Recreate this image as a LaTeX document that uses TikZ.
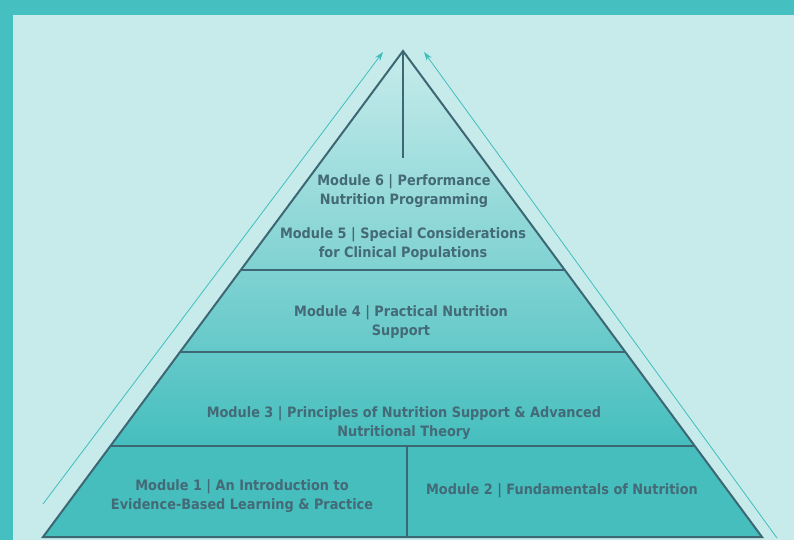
\documentclass[tikz,border=0pt]{standalone}
\usepackage{fontspec}
\setmainfont{DejaVu Sans}[FakeStretch=0.9]
\usetikzlibrary{arrows.meta,calc}
\definecolor{frameteal}{HTML}{45BFC0}
\definecolor{paper}{HTML}{C7EBEB}
\definecolor{slate}{HTML}{3D6772}
\definecolor{tierteal}{HTML}{46BEBE}
\definecolor{ink}{HTML}{436A76}
\definecolor{arrowteal}{HTML}{3FBDBD}
\tikzset{
  tiertext/.style={font=\bfseries\fontsize{14.3}{19.5}\selectfont, text=ink, align=center, inner sep=0},
  outline/.style={draw=slate, line width=2pt},
  climb/.style={draw=arrowteal, line width=0.8pt, -{Stealth[length=9pt,width=6pt]}}
}
\begin{document}
\begin{tikzpicture}[x=1pt,y=-1pt]
  \useasboundingbox (0,0) rectangle (794,540);
  \fill[frameteal] (0,0) rectangle (794,540);
  \fill[paper] (13,15) rectangle (794,540);
  \coordinate (apex) at (403,51);
  \coordinate (bl) at (43,537);
  \coordinate (br) at (762,537);
  \begin{scope}
    \clip (apex) -- (br) -- (bl) -- cycle;
    \shade[top color=paper, bottom color=tierteal] (0,51) rectangle (794,446);
    \fill[tierteal] (0,446) rectangle (794,540);
  \end{scope}
  \coordinate (l5) at ($(apex)!0.4506!(bl)$);
  \coordinate (r5) at ($(apex)!0.4506!(br)$);
  \coordinate (l4) at ($(apex)!0.6193!(bl)$);
  \coordinate (r4) at ($(apex)!0.6193!(br)$);
  \coordinate (l3) at ($(apex)!0.8128!(bl)$);
  \coordinate (r3) at ($(apex)!0.8128!(br)$);
  \coordinate (split) at (407,446);
  \coordinate (spire) at (403,158);
  \draw[outline] (l5) -- (r5);
  \draw[outline] (l4) -- (r4);
  \draw[outline] (l3) -- (r3);
  \draw[outline] (split) -- (split |- bl);
  \draw[outline] (apex) -- (spire);
  \draw[outline, line join=miter] (apex) -- (br) -- (bl) -- cycle;
  \coordinate (ltail) at (43,504);
  \coordinate (lhead) at (383,52);
  \coordinate (rtail) at (777,538);
  \coordinate (rhead) at (424,52);
  \draw[climb] (ltail) -- (lhead);
  \draw[climb] (rtail) -- (rhead);
  \node[tiertext] (m6) at (404,191) {Module 6 | Performance\\Nutrition Programming};
  \node[tiertext] (m5) at (403,244) {Module 5 | Special Considerations\\for Clinical Populations};
  \node[tiertext] (m4) at (401,322) {Module 4 | Practical Nutrition\\Support};
  \node[tiertext] (m3) at (404,423) {Module 3 | Principles of Nutrition Support \& Advanced\\Nutritional Theory};
  \node[tiertext] (m1) at (242,496) {Module 1 | An Introduction to\\Evidence-Based Learning \& Practice};
  \node[tiertext] (m2) at (562,491) {Module 2 | Fundamentals of Nutrition};
\end{tikzpicture}
\end{document}
